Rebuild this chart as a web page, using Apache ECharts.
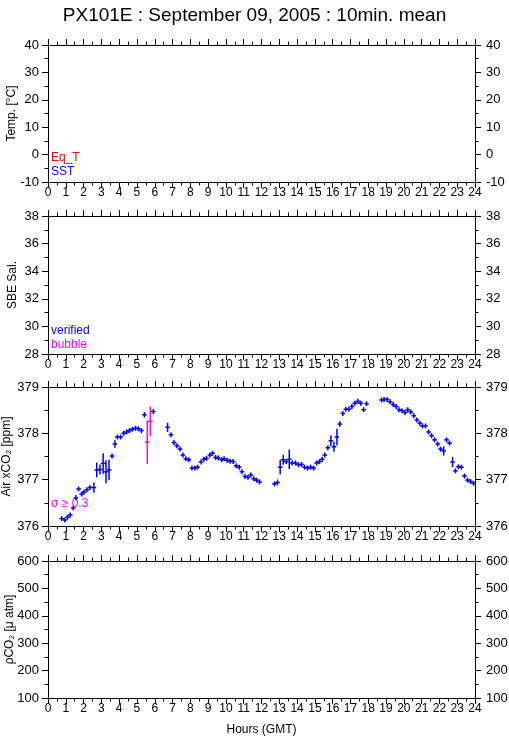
<!DOCTYPE html>
<html>
<head>
<meta charset="utf-8">
<script src="https://cdn.jsdelivr.net/npm/echarts@6/dist/echarts.min.js"></script>
<style>
  html, body { margin: 0; padding: 0; background: #fff; }
  #chart { width: 509px; height: 739px; }
</style>
</head>
<body>
<div id="chart"></div>
<script>
// 10 min means
const hours = [0.77, 0.95, 1.10, 1.25, 1.42, 1.57, 1.72, 1.89, 2.02, 2.19, 2.36, 2.58, 2.74, 2.92, 3.10, 3.26, 3.43, 3.60, 3.76, 3.90,
  4.08, 4.25, 4.42, 4.58, 4.75, 4.92, 5.08, 5.25, 5.42, 5.58, 5.75, 5.92,
  6.72, 6.91, 7.08, 7.25, 7.42, 7.58, 7.75, 7.92, 8.09, 8.26, 8.41, 8.60, 8.76, 8.91, 9.10, 9.25, 9.42, 9.57, 9.76, 9.90,
  10.07, 10.24, 10.41, 10.58, 10.75, 10.90, 11.07, 11.24, 11.40, 11.56, 11.72, 11.89,
  12.73, 12.90, 13.05, 13.22, 13.39, 13.56, 13.72, 13.91, 14.08, 14.25, 14.42, 14.59, 14.76, 14.93, 15.10, 15.26, 15.41, 15.56, 15.73, 15.90,
  16.07, 16.24, 16.40, 16.57, 16.74, 16.91, 17.08, 17.25, 17.42, 17.58, 17.74, 17.90,
  18.75, 18.89, 19.06, 19.23, 19.40, 19.57, 19.73, 19.90, 20.07, 20.22, 20.39, 20.56, 20.73, 20.90, 21.05, 21.22, 21.39, 21.56, 21.73, 21.90,
  22.06, 22.24, 22.40, 22.57, 22.74, 22.90, 23.07, 23.24, 23.41, 23.58, 23.75, 23.92];
const xco2 = [376.16, 376.13, 376.19, 376.24, 376.39, 376.61, 376.80, 376.69, 376.73, 376.78, 376.83, 376.83, 377.21, 377.22, 377.35, 377.17, 377.21, 377.51, 377.77, 377.92,
  377.92, 378.00, 378.03, 378.06, 378.09, 378.11, 378.10, 378.06, 378.40, 377.81, 378.26, 378.47,
  378.13, 377.97, 377.80, 377.73, 377.66, 377.53, 377.45, 377.43, 377.25, 377.25, 377.27, 377.38, 377.44, 377.46, 377.53, 377.57, 377.48, 377.47, 377.43, 377.45,
  377.42, 377.40, 377.39, 377.30, 377.27, 377.17, 377.07, 377.05, 377.10, 377.02, 376.99, 376.95,
  376.91, 376.94, 377.27, 377.43, 377.39, 377.44, 377.36, 377.36, 377.32, 377.33, 377.27, 377.25, 377.27, 377.25, 377.36, 377.39, 377.44, 377.53, 377.69, 377.84,
  377.71, 377.92, 378.20, 378.43, 378.52, 378.52, 378.58, 378.65, 378.69, 378.65, 378.51, 378.64,
  378.72, 378.73, 378.73, 378.68, 378.62, 378.58, 378.51, 378.49, 378.45, 378.51, 378.46, 378.38, 378.29, 378.22, 378.16, 378.16, 378.03, 377.95, 377.86, 377.77,
  377.66, 377.62, 377.86, 377.79, 377.38, 377.19, 377.28, 377.27, 377.08, 376.99, 376.96, 376.92];
const sigma = [0.03, 0.03, 0.03, 0.03, 0.03, 0.06, 0.05, 0.03, 0.03, 0.03, 0.03, 0.11, 0.16, 0.11, 0.22, 0.25, 0.22, 0.05, 0.08, 0.03,
  0.03, 0.03, 0.03, 0.03, 0.03, 0.03, 0.03, 0.03, 0.06, 0.47, 0.32, 0.03,
  0.10, 0.03, 0.03, 0.03, 0.03, 0.03, 0.03, 0.03, 0.03, 0.03, 0.03, 0.03, 0.03, 0.03, 0.03, 0.03, 0.03, 0.03, 0.03, 0.03,
  0.03, 0.03, 0.03, 0.03, 0.03, 0.03, 0.03, 0.03, 0.03, 0.03, 0.03, 0.03,
  0.03, 0.065, 0.16, 0.11, 0.03, 0.21, 0.03, 0.03, 0.03, 0.03, 0.03, 0.03, 0.03, 0.03, 0.03, 0.03, 0.03, 0.03, 0.03, 0.12,
  0.11, 0.18, 0.06, 0.03, 0.03, 0.03, 0.03, 0.03, 0.03, 0.03, 0.03, 0.03,
  0.03, 0.03, 0.03, 0.03, 0.03, 0.03, 0.03, 0.03, 0.03, 0.05, 0.03, 0.03, 0.03, 0.03, 0.03, 0.03, 0.03, 0.03, 0.03, 0.03,
  0.03, 0.10, 0.04, 0.03, 0.11, 0.03, 0.03, 0.03, 0.03, 0.03, 0.03, 0.03];

// y ranges of the four panels
const panels = [
  { name: 'Temp. [°C]', min: -10, max: 40, interval: 10, top: 45, height: 137, gap: 30 },
  { name: 'SBE Sal.', min: 28, max: 38, interval: 2, top: 216, height: 138, gap: 29 },
  { name: 'Air xCO₂ [ppm]', min: 376, max: 379, interval: 1, top: 387, height: 139, gap: 35 },
  { name: 'ρCO₂ [μ atm]', min: 100, max: 600, interval: 100, top: 561, height: 137, gap: 32 },
];

const font = 'Liberation Sans, Arial, sans-serif';
const black = '#000';

const grid = [], xAxis = [], yAxis = [];
panels.forEach((p, i) => {
  grid.push({ left: 48, width: 427, top: p.top, height: p.height, containLabel: false, outerBoundsMode: 'none' });
  const tick = { length: 6, lineStyle: { color: black } };
  const minor = { show: true, splitNumber: 2, length: 3.5, lineStyle: { color: black } };
  const xb = {
    type: 'value', gridIndex: i, min: 0, max: 24, interval: 1,
    axisLine: { onZero: false, lineStyle: { color: black } },
    axisTick: tick, minorTick: minor, splitLine: { show: false }, minorSplitLine: { show: false },
  };
  xAxis.push(Object.assign({}, xb, {
    position: 'bottom',
    axisLabel: { color: black, fontSize: 12, fontFamily: font, margin: 5 },
    name: i === 3 ? 'Hours (GMT)' : '', nameLocation: 'middle', nameGap: 26, nameMoveOverlap: false,
    nameTextStyle: { color: black, fontSize: 12, fontFamily: font },
  }));
  xAxis.push(Object.assign({}, xb, { position: 'top', axisLabel: { show: false } }));
  const yb = {
    type: 'value', gridIndex: i, min: p.min, max: p.max, interval: p.interval,
    axisLine: { show: true, onZero: false, lineStyle: { color: black } },
    axisTick: { show: true, length: 6, lineStyle: { color: black } },
    minorTick: minor, splitLine: { show: false },
    axisLabel: { color: black, fontSize: 13, fontFamily: font, margin: 9 },
  };
  yAxis.push(Object.assign({}, yb, {
    position: 'left', name: p.name, nameLocation: 'middle', nameGap: p.gap, nameRotate: 90,
    nameMoveOverlap: false,
    nameTextStyle: { color: black, fontSize: 12, fontFamily: font },
  }));
  yAxis.push(Object.assign({}, yb, {
    position: 'right',
    axisLabel: { color: black, fontSize: 13, fontFamily: font, margin: 11 },
  }));
});

function renderCross(params, api) {
  const h = api.value(0), v = api.value(1), e = api.value(2);
  const c = api.coord([h, v]);
  const t = api.coord([h, v + e]);
  const b = api.coord([h, v - e]);
  const color = e >= 0.3 ? '#ff00ff' : '#0000ff';
  const st = { stroke: color, lineWidth: 1.5 };
  return {
    type: 'group',
    children: [
      { type: 'line', shape: { x1: c[0] - 2.3, y1: c[1], x2: c[0] + 2.3, y2: c[1] }, style: st },
      { type: 'line', shape: { x1: c[0], y1: Math.min(t[1], c[1] - 2.5), x2: c[0], y2: Math.max(b[1], c[1] + 2.5) }, style: st },
    ],
  };
}

const crossData = hours.map((h, i) => [h, xco2[i], sigma[i]]);

const label = (text, color, top) => ({
  type: 'text', left: 51, top: top,
  style: { text: text, fill: color, fontSize: 12, fontFamily: font },
});

const option = {
  animation: false,
  backgroundColor: '#fff',
  title: {
    text: 'PX101E : September 09, 2005 : 10min. mean',
    left: 'center', top: 1,
    textStyle: { color: black, fontSize: 19, fontWeight: 'normal', fontFamily: font },
  },
  grid: grid,
  xAxis: xAxis,
  yAxis: yAxis,
  graphic: [
    label('Eq_T', '#ff0000', 152),
    label('SST', '#0000ff', 166),
    label('verified', '#0000ff', 325),
    label('bubble', '#ff00ff', 339),
    label('σ ≥ 0.3', '#ff00ff', 498),
  ],
  series: [
    { type: 'line', xAxisIndex: 0, yAxisIndex: 0, data: [] },
    { type: 'line', xAxisIndex: 2, yAxisIndex: 2, data: [] },
    {
      type: 'custom', xAxisIndex: 4, yAxisIndex: 4, clip: true,
      renderItem: renderCross, data: crossData,
    },
    { type: 'line', xAxisIndex: 6, yAxisIndex: 6, data: [] },
  ],
};

const chart = echarts.init(document.getElementById('chart'));
chart.setOption(option);
</script>
</body>
</html>
